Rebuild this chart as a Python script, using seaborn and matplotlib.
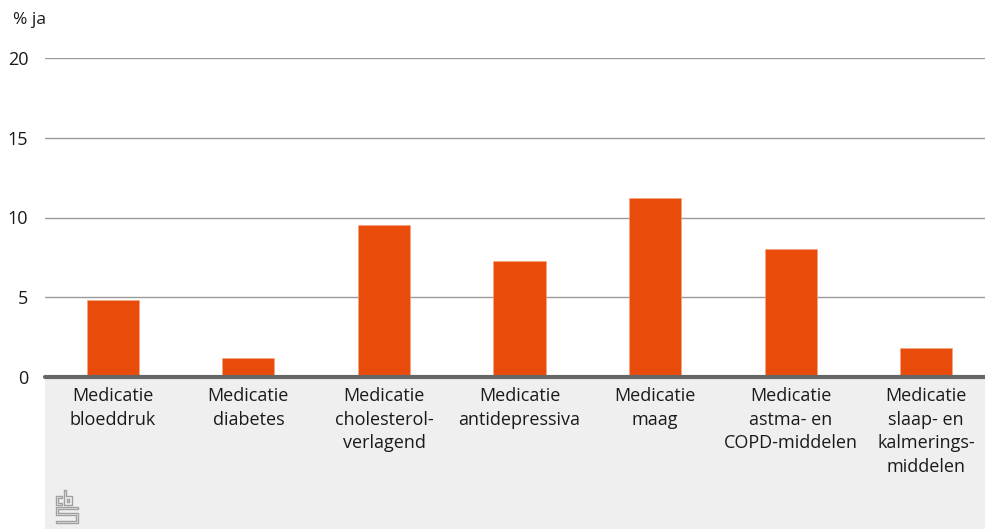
import matplotlib
matplotlib.use("Agg")
import matplotlib.pyplot as plt
import seaborn as sns
import pandas as pd

categories = [
    "Medicatie\nbloeddruk",
    "Medicatie\ndiabetes",
    "Medicatie\ncholesterol-\nverlagend",
    "Medicatie\nantidepressiva",
    "Medicatie\nmaag",
    "Medicatie\nastma- en\nCOPD-middelen",
    "Medicatie\nslaap- en\nkalmerings-\nmiddelen",
]
values = [4.8, 1.2, 9.5, 7.3, 11.2, 8.0, 1.8]
yticks = [0, 5, 10, 15, 20]
ylabel = "% ja"

sns.set_theme(style="white")
plt.rcParams["font.family"] = ["Open Sans", "DejaVu Sans"]

df = pd.DataFrame({"categorie": categories, "waarde": values})

fig = plt.figure(figsize=(9.85, 5.29), dpi=100)

# grey band behind the category labels
ax_bg = fig.add_axes([45 / 985, 0, 940 / 985, (529 - 378) / 529])
ax_bg.set_facecolor("#efefef")
ax_bg.set_xticks([])
ax_bg.set_yticks([])
for s in ax_bg.spines.values():
    s.set_visible(False)
ax_bg.set_zorder(0)

ax = fig.add_axes([45 / 985, 1 - 377 / 529, 945 / 985, (377 - 58) / 529])
ax.set_zorder(1)

for t in yticks[1:]:
    ax.axhline(t, color="#9a9a9a", lw=1.0, zorder=1)

sns.barplot(data=df, x="categorie", y="waarde", color="#e94c0a", width=0.385,
            saturation=1, edgecolor="#f4a582", linewidth=0.4, ax=ax, zorder=2)

ax.axhline(0, color="#666666", lw=3, zorder=3, clip_on=False)
ax.set_ylim(0, 20)
ax.set_xlim(-0.5, 6.47)
ax.set_yticks(yticks)
ax.set_yticklabels([str(t) for t in yticks], fontsize=13, color="#1a1a1a")
ax.tick_params(axis="y", length=0, pad=12)
ax.tick_params(axis="x", length=0, pad=7)
ax.set_xticklabels(categories, fontsize=13, color="#1a1a1a", linespacing=1.42)
ax.set_xlabel("")
ax.set_ylabel("")
for s in ax.spines.values():
    s.set_visible(False)
ax.patch.set_alpha(0)

fig.text(13 / 985, 1 - 20 / 529, ylabel, fontsize=12.5, color="#1a1a1a",
         va="center", ha="left")

# small cbs logo mark
lc = "#a0a0a0"
def fx(px):
    return px / 985
def fy(py):
    return 1 - py / 529
segs = [
    # c
    [(56, 496), (62, 496), (62, 498), (58, 498), (58, 503), (62, 503), (62, 505), (56, 505), (56, 496)],
    # b
    [(64, 490), (66, 490), (66, 496), (72, 496), (72, 505), (64, 505), (64, 490)],
    [(67, 499), (69, 499), (69, 502), (67, 502), (67, 499)],
    # s
    [(56, 507), (78, 507), (78, 509), (58, 509), (58, 513), (78, 513), (78, 523), (56, 523),
     (56, 521), (76, 521), (76, 515), (56, 515), (56, 507)],
]
for seg in segs:
    xs = [fx(p[0]) for p in seg]
    ys = [fy(p[1]) for p in seg]
    fig.add_artist(plt.Line2D(xs, ys, color=lc, lw=1.0, transform=fig.transFigure, zorder=5))

fig.savefig("out.png", dpi=100, facecolor="white")
